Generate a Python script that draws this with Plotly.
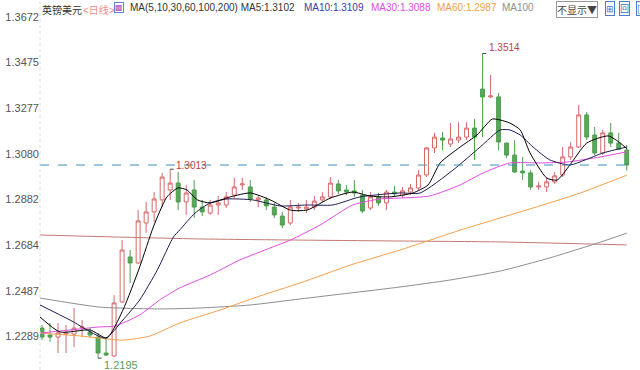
import plotly.graph_objects as go

# ---- data ----
idx = list(range(74))
opens = [1.2325,1.2295,1.2286,1.2299,1.2299,1.2325,1.2308,1.2286,1.2217,1.2204,
 1.2438,1.2633,1.2607,1.2780,1.2828,1.2880,1.2923,1.2953,1.2871,1.2923,
 1.2849,1.2823,1.2858,1.2858,1.2901,1.2945,1.2936,1.2880,1.2880,1.2849,
 1.2810,1.2780,1.2845,1.2841,1.2849,1.2880,1.2893,1.2949,1.2923,1.2919,
 1.2901,1.2845,1.2893,1.2867,1.2914,1.2901,1.2914,1.2932,1.2988,1.3105,
 1.3148,1.3122,1.3139,1.3152,1.3191,1.3360,1.3326,1.3326,1.3126,1.3074,
 1.3005,1.2997,1.2936,1.2936,1.2958,1.2988,1.3066,1.3109,1.3248,1.3161,
 1.3083,1.3170,1.3126,1.3096]
highs = [1.2338,1.2347,1.2347,1.2338,1.2412,1.2360,1.2325,1.2304,1.2282,1.2468,
 1.2706,1.2663,1.2836,1.2871,1.2914,1.2997,1.3013,1.3001,1.2945,1.2966,
 1.2880,1.2880,1.2897,1.2914,1.2975,1.2975,1.2966,1.2901,1.2893,1.2867,
 1.2828,1.2880,1.2867,1.2880,1.2897,1.2914,1.2979,1.2966,1.2945,1.2966,
 1.2923,1.2914,1.2910,1.2923,1.2940,1.2936,1.2949,1.3009,1.3109,1.3170,
 1.3174,1.3213,1.3217,1.3217,1.3230,1.3514,1.3421,1.3343,1.3128,1.3139,
 1.3066,1.3010,1.2958,1.2979,1.3001,1.3109,1.3131,1.3291,1.3261,1.3196,
 1.3183,1.3213,1.3170,1.3118]
lows = [1.2273,1.2265,1.2217,1.2217,1.2243,1.2286,1.2282,1.2195,1.2204,1.2200,
 1.2434,1.2520,1.2602,1.2737,1.2784,1.2849,1.2880,1.2836,1.2815,1.2802,
 1.2810,1.2815,1.2815,1.2845,1.2888,1.2923,1.2871,1.2849,1.2836,1.2802,
 1.2758,1.2771,1.2828,1.2823,1.2836,1.2871,1.2884,1.2905,1.2901,1.2893,
 1.2823,1.2836,1.2854,1.2836,1.2893,1.2888,1.2901,1.2923,1.2979,1.3083,
 1.3096,1.3109,1.3126,1.3139,1.3053,1.3152,1.3321,1.3096,1.3061,1.2997,
 1.2966,1.2923,1.2923,1.2914,1.2949,1.2979,1.3053,1.3105,1.3139,1.3074,
 1.3074,1.3109,1.3096,1.3007]
closes = [1.2286,1.2286,1.2304,1.2304,1.2325,1.2330,1.2295,1.2217,1.2208,1.2434,
 1.2663,1.2607,1.2789,1.2828,1.2884,1.2979,1.2953,1.2871,1.2910,1.2849,
 1.2828,1.2858,1.2867,1.2893,1.2936,1.2949,1.2884,1.2888,1.2854,1.2815,
 1.2771,1.2849,1.2849,1.2849,1.2875,1.2893,1.2953,1.2919,1.2914,1.2910,
 1.2832,1.2893,1.2867,1.2914,1.2906,1.2919,1.2932,1.2988,1.3105,1.3152,
 1.3139,1.3144,1.3152,1.3191,1.3152,1.3326,1.3330,1.3131,1.3074,1.3001,
 1.2997,1.2936,1.2940,1.2958,1.2984,1.3066,1.3109,1.3248,1.3152,1.3083,
 1.3170,1.3126,1.3100,1.3031]

ma5_x = [-0.25,2.25,6.0,8.1,10.1,12.2,13.9,15.6,17.0,18.1,19.4,21.0,23.5,26.0,28.5,31.0,33.1,
         36.0,38.8,40.9,43.4,46.3,48.2,49.7,52.2,54.3,56.2,57.2,58.4,59.7,60.9,63.0,64.3,65.9,
         68.0,70.7,72.2,73.0]
ma5_v = [1.2373,1.2308,1.2317,1.2282,1.2403,1.2590,1.2763,1.2893,1.2932,1.2923,1.2880,1.2867,1.2893,
         1.2910,1.2880,1.2836,1.2836,1.2888,1.2914,1.2897,1.2893,1.2910,1.2945,1.3040,1.3109,1.3161,
         1.3230,1.3226,1.3213,1.3183,1.3085,1.2975,1.2966,1.3031,1.3126,1.3157,1.3126,1.3102]
ma10_x = [-0.25,3.5,7.9,10.1,12.2,14.4,16.4,17.2,19.1,21.0,23.1,26.3,29.7,33.1,36.3,39.7,44.7,
          47.2,51.3,54.7,57.2,58.4,59.7,61.3,63.4,65.9,67.8,70.0,73.0]
ma10_v = [1.2425,1.2360,1.2282,1.2360,1.2447,1.2577,1.2719,1.2750,1.2823,1.2867,1.2884,1.2880,1.2854,
          1.2858,1.2858,1.2893,1.2910,1.2910,1.3009,1.3109,1.3183,1.3183,1.3161,1.3109,1.3053,1.3031,
          1.3053,1.3083,1.3109]
ma30_x = [-0.25,3.5,7.2,9.1,12.2,14.7,17.2,21.0,24.7,28.5,31.0,34.7,38.8,42.2,44.7,48.4,52.2,55.1,
          58.4,62.2,65.5,69.7,73.0]
ma30_v = [1.2303,1.2317,1.2330,1.2334,1.2382,1.2447,1.2499,1.2555,1.2620,1.2672,1.2706,1.2771,1.2858,
          1.2884,1.2888,1.2897,1.2945,1.2997,1.3040,1.3040,1.3044,1.3066,1.3088]
ma60_x = [-0.25,4.7,10.1,13.5,17.2,22.2,27.2,32.2,38.5,44.7,52.2,61.3,67.2,73.0]
ma60_v = [1.2303,1.2291,1.2273,1.2291,1.2347,1.2403,1.2464,1.2520,1.2598,1.2663,1.2749,1.2845,
          1.2910,1.2987]
ma100_x = [-0.25,7.2,14.7,19.7,26.0,32.2,38.5,44.7,50.9,57.2,63.4,69.7,73.0]
ma100_v = [1.2455,1.2416,1.2408,1.2412,1.2425,1.2451,1.2477,1.2503,1.2533,1.2572,1.2629,1.2697,1.2736]
ma200_x = [-0.25,9.7,19.7,32.2,44.7,57.2,73.0]
ma200_v = [1.2728,1.2719,1.2711,1.2706,1.2702,1.2698,1.2685]

y_ticks = [1.3672, 1.3475, 1.3277, 1.3080, 1.2882, 1.2684, 1.2487, 1.2289]

hi_i, hi_v = 55, 1.3514
mid_i, mid_v = 16, 1.3013
lo_i, lo_v = 7, 1.2195

legend_items = [("MA(5,10,30,60,100,200) MA5:1.3102", "#333333", 128),
                ("MA10:1.3109", "#3a3aa8", 302),
                ("MA30:1.3088", "#e04ce0", 369),
                ("MA60:1.2987", "#f2a04a", 435),
                ("MA100", "#8e8e8e", 500)]

FONT = "Liberation Sans"
CJK = "Noto Sans CJK SC"
L, PW = 40, 593  # plot left and width in pixels


def px(p):
    return (p - L) / PW


fig = go.Figure()


def ma(xs, vs, color, width=1):
    fig.add_trace(go.Scatter(x=xs, y=vs, mode="lines",
                             line=dict(color=color, width=width, shape="spline", smoothing=0.6),
                             hoverinfo="skip", showlegend=False))


ma(ma200_x, ma200_v, "#c27a72")
ma(ma100_x, ma100_v, "#8e8e8e")
ma(ma60_x, ma60_v, "#f2a04a")
ma(ma30_x, ma30_v, "#e04ce0")

fig.add_trace(go.Candlestick(
    x=idx, open=opens, high=highs, low=lows, close=closes,
    increasing=dict(line=dict(color="#d46a6a", width=1), fillcolor="#ffffff"),
    decreasing=dict(line=dict(color="#4f9d4f", width=1), fillcolor="#5aa85a"),
    whiskerwidth=0, showlegend=False))

ma(ma10_x, ma10_v, "#1c1c50")
ma(ma5_x, ma5_v, "#000000")

# last price dashed line
fig.add_hline(y=closes[-1], line=dict(color="#3d8fb8", width=1, dash="dash"))
# left border dotted
fig.add_shape(type="line", xref="paper", yref="paper", x0=0, x1=0, y0=0, y1=1,
              line=dict(color="#d8dce6", width=1, dash="dot"))

red = "#b8433f"
green = "#5a9c5a"
annots = [
    dict(x=hi_i, y=hi_v, text=f"{hi_v:.4f}", showarrow=False, xanchor="left", yanchor="middle",
         xshift=4, yshift=6, font=dict(family=FONT, size=10, color=red)),
    dict(x=hi_i, y=hi_v, ax=5, ay=0, text="", showarrow=True,
         arrowhead=0, arrowwidth=1, arrowcolor="#444"),
    dict(x=mid_i, y=mid_v, text=f"{mid_v:.4f}", showarrow=False, xanchor="left", yanchor="middle",
         xshift=4, yshift=4, font=dict(family=FONT, size=10, color=red)),
    dict(x=mid_i, y=mid_v, ax=5, ay=0, text="", showarrow=True,
         arrowhead=0, arrowwidth=1, arrowcolor="#444"),
    dict(x=lo_i, y=lo_v, text=f"{lo_v:.4f}", showarrow=False, xanchor="left", yanchor="middle",
         xshift=4, yshift=-7, font=dict(family=FONT, size=11, color=green)),
    dict(x=lo_i, y=lo_v, ax=5, ay=0, text="", showarrow=True,
         arrowhead=0, arrowwidth=1, arrowcolor="#444"),
]

# header
annots.append(dict(xref="paper", yref="paper", x=px(40), y=1, xanchor="left", yanchor="top", yshift=0,
                   text="英镑美元", showarrow=False, font=dict(family=CJK, size=10, color="#333")))
annots.append(dict(xref="paper", yref="paper", x=px(81), y=1, xanchor="left", yanchor="top", yshift=0,
                   text="&lt;<span style='font-family:\"Noto Sans CJK SC\"'>日线</span>&gt;", showarrow=False,
                   font=dict(family=FONT, size=10, color="#f08a8a")))
annots.append(dict(xref="paper", yref="paper", x=px(119), y=1, xanchor="center", yanchor="top", yshift=-2,
                   text="▩", showarrow=False, bordercolor="#6a7fd0", borderwidth=1, borderpad=0,
                   font=dict(family="DejaVu Sans", size=8, color="#b055b0")))
for txt, col, p in legend_items:
    annots.append(dict(xref="paper", yref="paper", x=px(p), y=1, xanchor="left", yanchor="top", yshift=0,
                       text=txt, showarrow=False, font=dict(family=FONT, size=10, color=col)))
annots.append(dict(xref="paper", yref="paper", x=px(577), y=1, xanchor="center", yanchor="top", yshift=-1,
                   text="不显示▼", showarrow=False, bordercolor="#999", borderwidth=1, borderpad=0,
                   bgcolor="#ffffff", font=dict(family=CJK, size=10, color="#444")))
for p, t in [(610, "⊞"), (624, "回"), (638, "[")]:
    annots.append(dict(xref="paper", yref="paper", x=px(p), y=1, xanchor="center", yanchor="top", yshift=-1,
                       text=t, showarrow=False, bordercolor="#4a7fd0", borderwidth=1, borderpad=0,
                       bgcolor="#ffffff", font=dict(family=CJK, size=9, color="#3a6fc8")))

fig.update_layout(
    width=640, height=370, margin=dict(l=L, r=640 - L - PW, t=0, b=0),
    paper_bgcolor="#ffffff", plot_bgcolor="#ffffff",
    showlegend=False, annotations=annots, boxgap=0.3,
    xaxis=dict(range=[-0.25, 73.78], visible=False, rangeslider=dict(visible=False), fixedrange=True),
    yaxis=dict(range=[1.21435, 1.37456], tickvals=y_ticks, ticktext=[f"{v:.4f}" for v in y_ticks],
               showgrid=False, zeroline=False, showline=False, ticks="", fixedrange=True,
               tickfont=dict(family=FONT, size=11, color="#555")),
)

fig.write_html("out.html", config={"displayModeBar": False},
               post_script="document.body.style.margin='0';document.body.style.overflow='hidden';")
